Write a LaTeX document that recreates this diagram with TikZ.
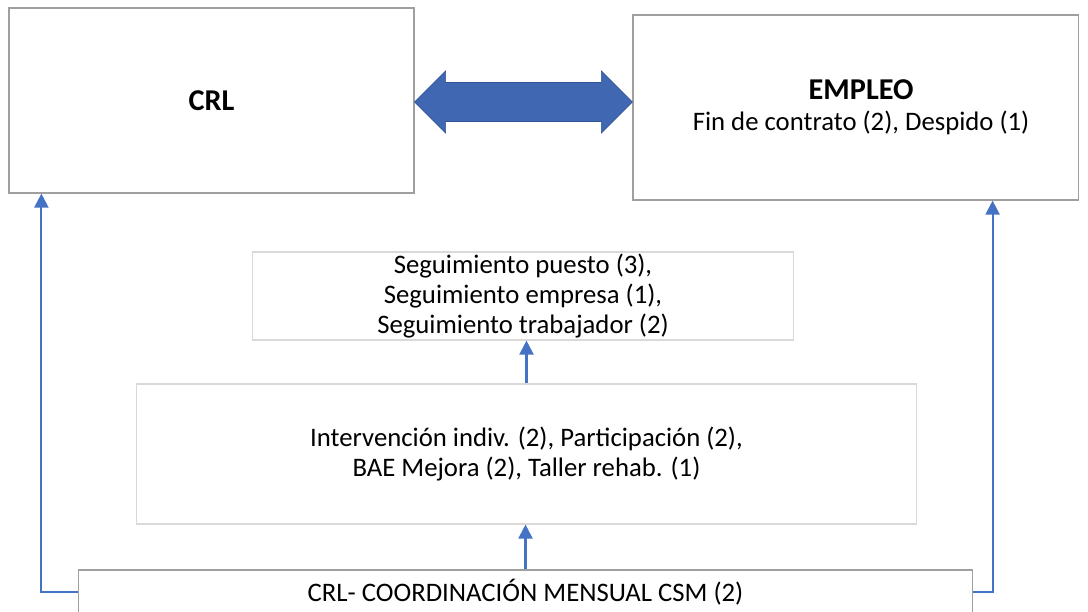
\documentclass[tikz,border=0pt]{standalone}
\usepackage{fontspec}
\setmainfont{Carlito}
\usetikzlibrary{arrows.meta}
\usetikzlibrary{calc}
\definecolor{linkblue}{RGB}{68,114,196}
\definecolor{arrowblue}{RGB}{64,104,178}
\definecolor{arrowedge}{RGB}{47,85,151}
\tikzset{box/.style={draw=gray!75, line width=0.8pt, fill=white, align=center, inner sep=0pt}}
\tikzset{softbox/.style={draw=gray!30, line width=0.8pt, fill=white, align=center, inner sep=0pt}}
\tikzset{conn/.style={linkblue, line width=1.5pt, -{Triangle[length=0.35cm, width=0.35cm]}}}

\begin{document}
\begin{tikzpicture}[x=0.025cm, y=-0.025cm, font=\fontsize{19}{21.5}\selectfont]
    \useasboundingbox (0,0) rectangle (1088,612);
    %Boxes
    \node[box, minimum width=10.125cm, minimum height=4.625cm] (crl) at (211.5,100.5) {\fontsize{21.5}{26}\selectfont\bfseries CRL};
    \node[box, minimum width=11.125cm, minimum height=4.625cm] (emp) at (855.5,107.5) {\hspace*{0.28cm}{\fontsize{21.5}{26}\selectfont\bfseries EMPLEO}\\[0.03cm] \hspace*{0.28cm}Fin de contrato (2), Despido (1)};
    \node[softbox, minimum width=13.5cm, minimum height=2.2cm] (seg) at (523,296) {Seguimiento puesto (3),\\ Seguimiento empresa (1),\\ Seguimiento trabajador (2)};
    \node[softbox, minimum width=19.475cm, minimum height=3.5cm] (int) at (526.5,454) {Intervención indiv. (2), Participación (2),\\ BAE Mejora (2), Taller rehab. (1)};
    \node[box, minimum width=22.325cm, minimum height=1.1cm] (bot) at (525.5,592) {CRL- COORDINACIÓN MENSUAL CSM (2)};
    %Double arrow
    \coordinate (la) at ($(crl.east)+(0,1.5)$);
    \coordinate (ra) at (la -| emp.west);
    \filldraw[fill=arrowblue, draw=arrowedge, line width=0.4pt] (la) -- ($(la)+(31,-31)$) -- ($(la)+(31,-19.5)$) -- ($(ra)+(-31,-19.5)$) -- ($(ra)+(-31,-31)$) -- (ra) -- ($(ra)+(-31,31)$) -- ($(ra)+(-31,19.5)$) -- ($(la)+(31,19.5)$) -- ($(la)+(31,31)$) -- cycle;
    %Connectors
    \draw[conn] (bot.north) -- (bot.north |- int.south);
    \draw[conn] (int.north) -- (int.north |- seg.south);
    \draw[conn] (bot.west) -| ([xshift=0.825cm]crl.south west);
    \draw[conn] (bot.east) -| ([xshift=-2.15cm]emp.south east);
\end{tikzpicture}
\end{document}
